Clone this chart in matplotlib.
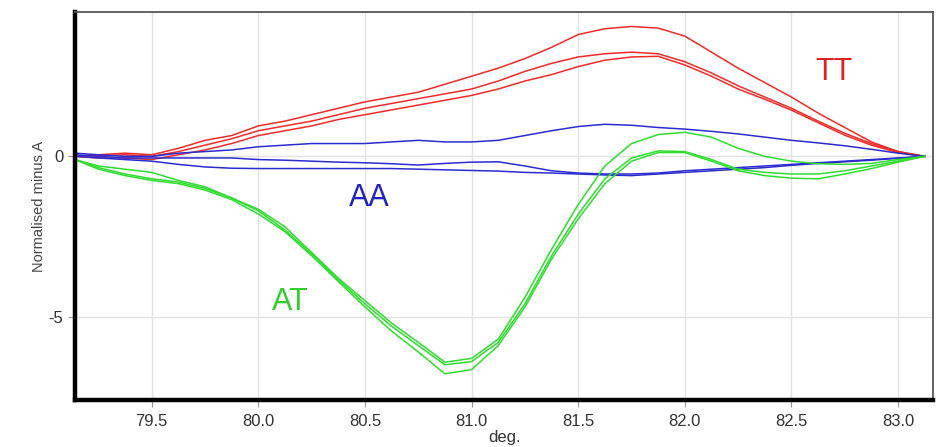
import matplotlib
matplotlib.use("Agg")
import matplotlib.pyplot as plt

# melt curve difference plot: TT / AA / AT genotypes, normalised minus A

deg = [79.14, 79.25, 79.375, 79.5, 79.625, 79.75, 79.875, 80.0, 80.125, 80.25,
       80.375, 80.5, 80.625, 80.75, 80.875, 81.0, 81.125, 81.25, 81.375, 81.5,
       81.625, 81.75, 81.875, 82.0, 82.125, 82.25, 82.375, 82.5, 82.625, 82.75,
       82.875, 83.0, 83.125]

# TT (red)
tt_1 = [0.0, 0.05, 0.1, 0.05, 0.25, 0.5, 0.65, 0.95, 1.1, 1.3,
        1.5, 1.7, 1.85, 2.0, 2.25, 2.5, 2.75, 3.05, 3.4, 3.8,
        3.98, 4.05, 4.0, 3.75, 3.25, 2.75, 2.3, 1.85, 1.35, 0.9,
        0.45, 0.15, 0.0]
tt_2 = [0.0, 0.02, 0.05, 0.0, 0.15, 0.35, 0.55, 0.8, 0.95, 1.1,
        1.3, 1.5, 1.65, 1.8, 1.95, 2.1, 2.35, 2.65, 2.9, 3.1,
        3.2, 3.25, 3.2, 2.95, 2.6, 2.2, 1.85, 1.5, 1.1, 0.72,
        0.4, 0.15, 0.0]
tt_3 = [0.0, -0.05, -0.05, -0.1, 0.05, 0.2, 0.4, 0.65, 0.8, 0.95,
        1.15, 1.3, 1.45, 1.6, 1.75, 1.9, 2.1, 2.35, 2.55, 2.8,
        3.0, 3.1, 3.12, 2.85, 2.5, 2.1, 1.78, 1.44, 1.05, 0.66,
        0.35, 0.12, 0.0]

# AA (blue)
aa_1 = [0.1, 0.05, 0.0, 0.0, 0.1, 0.15, 0.2, 0.3, 0.35, 0.4,
        0.4, 0.4, 0.45, 0.5, 0.45, 0.45, 0.5, 0.65, 0.8, 0.93,
        1.0, 0.97, 0.9, 0.85, 0.78, 0.7, 0.6, 0.5, 0.42, 0.33,
        0.22, 0.1, 0.0]
aa_2 = [0.05, 0.0, -0.05, -0.05, -0.05, -0.05, -0.05, -0.1, -0.12, -0.15,
        -0.18, -0.2, -0.23, -0.27, -0.22, -0.18, -0.17, -0.3, -0.45, -0.52,
        -0.55, -0.55, -0.52, -0.45, -0.4, -0.35, -0.3, -0.25, -0.2, -0.15,
        -0.1, -0.05, 0.0]
aa_3 = [0.0, -0.05, -0.1, -0.15, -0.25, -0.33, -0.37, -0.38, -0.38, -0.38,
        -0.38, -0.38, -0.38, -0.4, -0.42, -0.44, -0.46, -0.5, -0.52, -0.55,
        -0.58, -0.6, -0.55, -0.5, -0.45, -0.4, -0.35, -0.28, -0.22, -0.17,
        -0.12, -0.06, 0.0]

# AT (green)
at_1 = [-0.1, -0.3, -0.4, -0.5, -0.75, -0.95, -1.3, -1.65, -2.2, -3.0,
        -3.8, -4.5, -5.2, -5.8, -6.42, -6.3, -5.7, -4.4, -2.9, -1.5,
        -0.3, 0.4, 0.68, 0.75, 0.6, 0.25, 0.0, -0.15, -0.23, -0.25,
        -0.22, -0.1, 0.0]
at_2 = [-0.1, -0.35, -0.55, -0.7, -0.8, -1.0, -1.3, -1.7, -2.3, -3.05,
        -3.85, -4.6, -5.3, -5.9, -6.5, -6.4, -5.8, -4.6, -3.1, -1.8,
        -0.7, -0.05, 0.17, 0.15, -0.1, -0.4, -0.5, -0.55, -0.55, -0.45,
        -0.3, -0.15, 0.0]
at_3 = [-0.1, -0.4, -0.6, -0.75, -0.85, -1.05, -1.35, -1.8, -2.35, -3.1,
        -3.9, -4.7, -5.45, -6.1, -6.78, -6.65, -5.9, -4.7, -3.2, -1.95,
        -0.85, -0.15, 0.12, 0.12, -0.15, -0.45, -0.6, -0.68, -0.7, -0.55,
        -0.38, -0.18, 0.0]

x_ticks = [79.5, 80.0, 80.5, 81.0, 81.5, 82.0, 82.5, 83.0]
y_ticks = [-5, 0]

plt.rcParams['font.family'] = ['Liberation Sans', 'DejaVu Sans']
plt.rcParams['axes.unicode_minus'] = False

fig = plt.figure(figsize=(9.4, 4.47), dpi=100)
ax = fig.add_axes([0.0798, 0.105, 0.9128, 0.868])

red = '#ee2a2a'
blue = '#2b2bd0'
green = '#2fdc2f'

for ys in (tt_1, tt_2, tt_3):
    ax.plot(deg, ys, color=red, lw=1.1)
for ys in (aa_1, aa_2, aa_3):
    ax.plot(deg, ys, color=blue, lw=1.1)
for ys in (at_1, at_2, at_3):
    ax.plot(deg, ys, color=green, lw=1.1)

ax.text(82.70, 2.63, 'TT', color='#dd2222', fontsize=22, ha='center', va='center')
ax.text(80.52, -1.31, 'AA', color='#2424bb', fontsize=22, ha='center', va='center')
ax.text(80.15, -4.55, 'AT', color='#33cc33', fontsize=22, ha='center', va='center')

ax.set_xlim(79.14, 83.164)
ax.set_ylim(-7.6, 4.5)
ax.set_xticks(x_ticks)
ax.set_xticklabels(['%.1f' % t for t in x_ticks])
ax.set_yticks(y_ticks)
ax.grid(True, color='#e2e2e2', lw=1)
ax.set_axisbelow(True)

ax.tick_params(axis='both', labelsize=12, colors='#999999', labelcolor='#333333', length=5)
ax.tick_params(axis='x', pad=5)
ax.set_xlabel('deg.', fontsize=12, color='#333333', labelpad=1)
ax.set_ylabel('Normalised minus A', fontsize=10.5, color='#444444', labelpad=2)

# thick black left/bottom, thin grey top/right
ax.spines['left'].set_linewidth(3.2)
ax.spines['bottom'].set_linewidth(3.2)
ax.spines['left'].set_color('black')
ax.spines['bottom'].set_color('black')
ax.spines['top'].set_linewidth(1.3)
ax.spines['right'].set_linewidth(1.3)
ax.spines['top'].set_color('#555555')
ax.spines['right'].set_color('#555555')

fig.savefig('out.png', dpi=100)
